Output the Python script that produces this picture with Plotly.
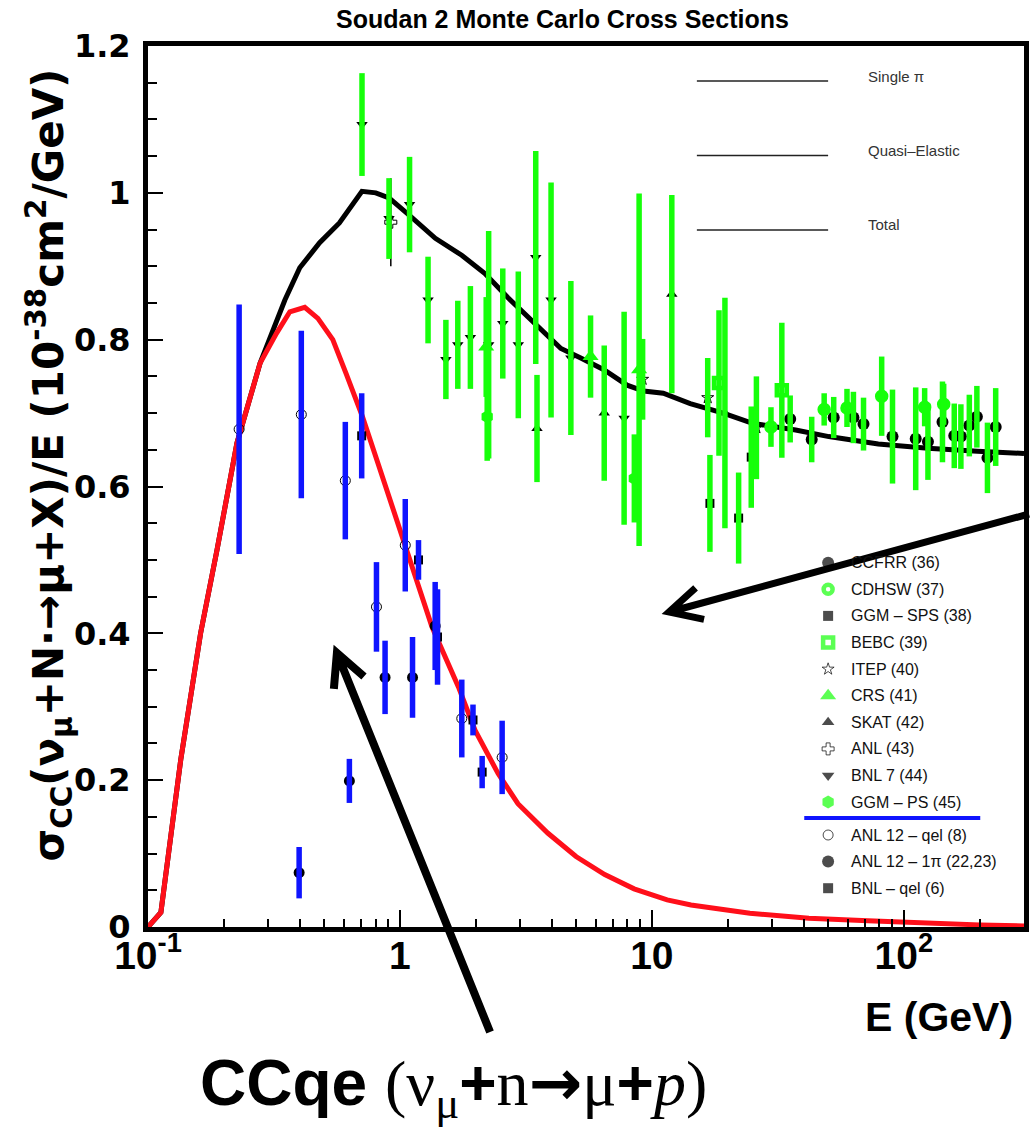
import math
import plotly.graph_objects as go

# ---------------- Monte Carlo curves (sigma/E vs E) ----------------
total_E = [0.1, 0.1125, 0.1349, 0.1617, 0.188, 0.2254, 0.2786, 0.305, 0.3494, 0.4003, 0.48, 0.575,
           0.7066, 0.802, 0.905, 1.085, 1.382, 1.759, 2.175, 2.686, 3.42, 4.355, 5.22, 6.45, 7.97,
           9.27, 11.1, 14.2, 19.2, 25.1, 37.2, 50.4, 79.2, 124.7, 196.0, 290.0, 300.0]
total_xs = [0.0, 0.02, 0.228, 0.400, 0.514, 0.659, 0.768, 0.804, 0.854, 0.898, 0.932, 0.959,
            1.002, 1.000, 0.993, 0.970, 0.938, 0.915, 0.890, 0.857, 0.822, 0.788, 0.775, 0.759, 0.738,
            0.730, 0.727, 0.713, 0.700, 0.686, 0.677, 0.668, 0.658, 0.652, 0.648, 0.645, 0.645]

qe_E = [0.1, 0.1125, 0.1349, 0.1617, 0.188, 0.2254, 0.2786, 0.324, 0.3656, 0.419, 0.4725, 0.5414,
        0.611, 0.7105, 0.8266, 0.991, 1.153, 1.34, 1.707, 1.986, 2.453, 2.94, 3.86, 5.0, 6.5, 8.5,
        11.5, 14.3, 24.5, 42.0, 72.0, 123.0, 200.0, 300.0]
qe_xs = [0.0, 0.02, 0.228, 0.400, 0.514, 0.659, 0.768, 0.809, 0.838, 0.844, 0.829, 0.800,
         0.754, 0.695, 0.627, 0.545, 0.473, 0.409, 0.327, 0.268, 0.209, 0.168, 0.128, 0.096, 0.0715,
         0.052, 0.037, 0.030, 0.0187, 0.0119, 0.0086, 0.005, 0.0028, 0.0014]

# ---------------- total cross-section measurements ----------------
ccfrr_E = [35.4, 43.1, 52.7, 63.1, 69.2, 90.2, 111.5, 124.7, 142.4, 158.6, 168.5, 182.0, 195.0, 214.8, 231.6]
ccfrr_xs = [0.692, 0.664, 0.694, 0.694, 0.685, 0.668, 0.665, 0.661, 0.688, 0.669, 0.668, 0.683, 0.695, 0.639, 0.681]
ccfrr_err = [0.032, 0.031, 0.028, 0.035, 0.036, 0.064, 0.070, 0.052, 0.055, 0.044, 0.044, 0.042, 0.042, 0.048, 0.053]

cdhsw_E = [29.7, 48.3, 59.5, 81.7, 121.0, 144.0]
cdhsw_xs = [0.681, 0.705, 0.707, 0.723, 0.708, 0.712]
cdhsw_err = [0.027, 0.022, 0.026, 0.054, 0.026, 0.028]

ggmsps_E = [17.0, 22.1, 24.8]
ggmsps_xs = [0.577, 0.557, 0.640]
ggmsps_err = [0.066, 0.062, 0.069]

bebc_E = [18.47, 32.8]
bebc_xs = [0.741, 0.731]
bebc_err = [0.099, 0.092]

itep_E = [9.19, 16.66, 26.0]
itep_xs = [0.746, 0.721, 0.680]
itep_err = [0.055, 0.054, 0.070]

crs_E = [2.2, 5.71, 8.9]
crs_xs = [0.790, 0.777, 0.759]
crs_err = [0.068, 0.056, 0.240]

skat_E = [3.5, 6.47, 12.0, 19.5]
skat_xs = [0.679, 0.700, 0.862, 0.700]
skat_err = [0.073, 0.092, 0.135, 0.157]

anl_E = [0.92]
anl_xs = [0.960]
anl_err = [0.060]

bnl7_E = [0.707, 0.905, 1.092, 1.293, 1.522, 1.697, 1.904, 2.25, 2.56, 2.95, 3.46, 3.98, 4.77, 7.76]
bnl7_xs = [1.093, 0.965, 0.984, 0.854, 0.773, 0.793, 0.803, 0.793, 0.822, 0.793, 0.912, 0.854, 0.775, 0.693]
bnl7_err = [0.070, 0.055, 0.065, 0.059, 0.054, 0.060, 0.070, 0.155, 0.075, 0.100, 0.145, 0.160, 0.105, 0.145]

ggmps_E = [2.22, 8.52]
ggmps_xs = [0.695, 0.611]
ggmps_err = [0.060, 0.060]

# ---------------- quasi-elastic / single pion measurements ----------------
anlqel_E = [0.230, 0.406, 0.607, 0.807, 1.05, 1.76, 2.545]
anlqel_xs = [0.678, 0.698, 0.608, 0.436, 0.520, 0.284, 0.231]
anlqel_err = [0.170, 0.114, 0.080, 0.061, 0.063, 0.053, 0.050]

anl1pi_E = [0.398, 0.630, 0.873, 1.122, 1.38]
anl1pi_xs = [0.074, 0.199, 0.340, 0.340, 0.410]
anl1pi_err = [0.035, 0.030, 0.050, 0.055, 0.060]

bnlqel_E = [0.705, 1.185, 1.41, 1.95, 2.12]
bnlqel_xs = [0.669, 0.500, 0.395, 0.282, 0.211]
bnlqel_err = [0.058, 0.027, 0.065, 0.021, 0.022]

# ---------------- labels ----------------
x_tickvals = [0.1, 1, 10, 100]
x_ticktext = ["10<sup>-1</sup>", "1", "10", "10<sup>2</sup>"]
y_tickvals = [0, 0.2, 0.4, 0.6, 0.8, 1.0, 1.2]
y_ticktext = ["0", "0.2", "0.4", "0.6", "0.8", "1", "1.2"]
curve_names = ["Single π", "Quasi–Elastic", "Total"]
legend_names = ["CCFRR (36)", "CDHSW (37)", "GGM – SPS (38)", "BEBC (39)", "ITEP (40)", "CRS (41)",
                "SKAT (42)", "ANL (43)", "BNL 7 (44)", "GGM – PS (45)",
                "ANL 12 – qel (8)", "ANL 12 – 1π (22,23)", "BNL – qel (6)"]

GREEN = "#16ff0a"
BLUE = "#0f14ff"
RED = "#ff0f1a"

# ---------------- page geometry ----------------
W, H = 1032, 1128
L, R, T, B = 148, 3, 46, 201
PW, PH = W - L - R, H - T - B


def px(x):
    return (x - L) / PW


def py(y):
    return (H - B - y) / PH


fig = go.Figure()

# curves
fig.add_trace(go.Scatter(x=total_E, y=total_xs, mode="lines", line=dict(color="black", width=5)))
fig.add_trace(go.Scatter(x=qe_E, y=qe_xs, mode="lines", line=dict(color=RED, width=5)))

# marker styles for each data set
sets = [
    (ccfrr_E, ccfrr_xs, ccfrr_err, dict(symbol="circle", size=12, color="black"), GREEN),
    (cdhsw_E, cdhsw_xs, cdhsw_err, dict(symbol="circle-open", size=9, color=GREEN, line=dict(width=4.5, color=GREEN)), GREEN),
    (ggmsps_E, ggmsps_xs, ggmsps_err, dict(symbol="square", size=9, color="black"), GREEN),
    (bebc_E, bebc_xs, bebc_err, dict(symbol="square-open", size=10, color=GREEN, line=dict(width=4.5, color=GREEN)), GREEN),
    (itep_E, itep_xs, itep_err, dict(symbol="star-open", size=9, color="black", line=dict(width=1, color="black")), GREEN),
    (crs_E, crs_xs, crs_err, dict(symbol="triangle-up", size=14, color=GREEN), GREEN),
    (skat_E, skat_xs, skat_err, dict(symbol="triangle-up", size=10, color="black"), GREEN),
    (bnl7_E, bnl7_xs, bnl7_err, dict(symbol="triangle-down", size=10, color="black"), GREEN),
    (ggmps_E, ggmps_xs, ggmps_err, dict(symbol="hexagon", size=13, color=GREEN), GREEN),
    (anlqel_E, anlqel_xs, anlqel_err, dict(symbol="circle-open", size=10, color="black", line=dict(width=1, color="black")), BLUE),
    (anl1pi_E, anl1pi_xs, anl1pi_err, dict(symbol="circle", size=11, color="black"), BLUE),
    (bnlqel_E, bnlqel_xs, bnlqel_err, dict(symbol="square", size=9, color="black"), BLUE),
]

# markers first, error bars drawn on top of them
for xs, ys, _, mk, _ in sets:
    fig.add_trace(go.Scatter(x=xs, y=ys, mode="markers", marker=mk))
fig.add_trace(go.Scatter(x=anl_E, y=anl_xs, mode="markers",
                         marker=dict(symbol="cross-open", size=10, color="black", line=dict(width=1, color="black")),
                         error_y=dict(type="data", array=anl_err, color="black", thickness=1.5, width=0)))
for xs, ys, err, _, col in sets:
    fig.add_trace(go.Scatter(x=xs, y=ys, mode="markers", marker=dict(opacity=0, size=2),
                             error_y=dict(type="data", array=err, color=col,
                                          thickness=5.5, width=0)))

# key symbols, placed on overlay axes measured in page pixels
key_rows = [562.7 + 26.6 * i for i in range(10)] + [835 + 26.6 * j for j in range(3)]
fig.add_trace(go.Scatter(
    x=[832] * len(legend_names), y=key_rows,
    xaxis="x2", yaxis="y2", mode="markers", cliponaxis=False,
    marker=dict(
        symbol=["circle", "circle-open", "square", "square-open", "star-open", "triangle-up", "triangle-up",
                "cross-open", "triangle-down", "hexagon", "circle-open", "circle", "square"],
        size=[12, 9, 10, 10, 9, 14, 11, 10, 11, 13, 10, 12, 10],
        color=["black", GREEN, "black", GREEN, "black", GREEN, "black", "black", "black", GREEN,
               "black", "black", "black"],
        line=dict(width=[0, 4.5, 0, 4.5, 1, 0, 0, 1, 0, 0, 1, 0, 0],
                  color=["black", GREEN, "black", GREEN, "black", GREEN, "black", "black", "black", GREEN,
                         "black", "black", "black"]),
    )))

annotations = []
for name, yy in zip(legend_names, key_rows):
    annotations.append(dict(x=px(853), y=py(yy), xref="paper", yref="paper", text=name, showarrow=False,
                             xanchor="left", yanchor="middle",
                             font=dict(family="Liberation Sans", size=16, color="#111")))

shapes = [dict(type="line", xref="paper", yref="paper", x0=px(808), x1=px(985), y0=py(818), y1=py(818),
               line=dict(color=BLUE, width=4))]

# curve key (top right)
for i, name in enumerate(curve_names):
    yy = 81 + 74.5 * i
    shapes.append(dict(type="line", xref="paper", yref="paper", x0=px(700), x1=px(832), y0=py(yy), y1=py(yy),
                       line=dict(color="#222", width=1.3)))
    annotations.append(dict(x=px(870), y=py(yy - 5), xref="paper", yref="paper", text=name, showarrow=False,
                             xanchor="left", yanchor="middle",
                             font=dict(family="Liberation Sans", size=15, color="#333")))


# pointer arrows with open heads
def arrow(x0, y0, x1, y1, width, wing=36, ang=27):
    dx, dy = x0 - x1, y0 - y1
    n = math.hypot(dx, dy)
    ux, uy = dx / n, dy / n
    pts = []
    for s in (1, -1):
        a = math.radians(ang * s)
        wx = ux * math.cos(a) - uy * math.sin(a)
        wy = ux * math.sin(a) + uy * math.cos(a)
        pts.append((x1 + wing * wx, y1 + wing * wy))
    path = (f"M{px(x0)},{py(y0)} L{px(x1)},{py(y1)} "
            f"M{px(pts[0][0])},{py(pts[0][1])} L{px(x1)},{py(y1)} L{px(pts[1][0])},{py(pts[1][1])}")
    return dict(type="path", xref="paper", yref="paper", path=path, line=dict(color="black", width=width))


shapes.append(arrow(1034, 514, 672, 612, 7))
shapes.append(arrow(492, 1032, 338, 653, 8))

# title
annotations.append(dict(x=px(565), y=py(19), xref="paper", yref="paper", showarrow=False,
                        xanchor="center", yanchor="middle",
                        text="<b>Soudan 2 Monte Carlo Cross Sections</b>",
                        font=dict(family="Liberation Sans", size=25, color="black")))

# y-axis title
annotations.append(dict(x=px(48), y=py(465), xref="paper", yref="paper", showarrow=False, textangle=-90,
                        xanchor="center", yanchor="middle",
                        text="<b>σ<sub>CC</sub>(ν<sub>μ</sub>+N·→μ+X)/E (10<sup>-38</sup>cm<sup>2</sup>/GeV)</b>",
                        font=dict(family="DejaVu Sans", size=42, color="black")))

# x-axis title
annotations.append(dict(x=px(1020), y=py(1017), xref="paper", yref="paper", showarrow=False,
                        xanchor="right", yanchor="middle", text="<b>E (GeV)</b>",
                        font=dict(family="Liberation Sans", size=41, color="black")))

# reaction label
serif = "font-family:'Liberation Serif';font-weight:normal"
annotations.append(dict(
    x=px(455), y=py(1087), xref="paper", yref="paper", showarrow=False,
    xanchor="center", yanchor="middle",
    text=(f"<b>CCqe </b><span style=\"{serif}\">(ν<sub>μ</sub></span><b>+</b>"
          f"<span style=\"{serif}\">n</span><span style=\"font-family:'DejaVu Sans';font-weight:bold\">→</span>"
          f"<span style=\"{serif}\">μ</span><b>+</b>"
          f"<span style=\"{serif}\"><i>p</i>)</span>"),
    font=dict(family="Liberation Sans", size=64, color="black")))

x_minor = [k * 10.0 ** n for n in (-1, 0, 1, 2) for k in range(2, 10) if k * 10.0 ** n <= 300]
y_minor = [round(0.05 * i, 2) for i in range(25)]

fig.update_layout(
    width=W, height=H, margin=dict(l=L, r=R, t=T, b=B),
    plot_bgcolor="white", paper_bgcolor="white", showlegend=False,
    shapes=shapes, annotations=annotations,
    xaxis=dict(type="log", range=[-1, math.log10(300)], tickvals=x_tickvals, ticktext=x_ticktext,
               ticks="inside", ticklen=17, tickwidth=1.5, tickcolor="black",
               minor=dict(tickvals=x_minor, ticks="inside", ticklen=8, tickwidth=1.5, tickcolor="black"),
               showline=True, linewidth=5, linecolor="black", mirror=True,
               showgrid=False, zeroline=False, ticklabelstandoff=-10,
               tickfont=dict(family="Liberation Sans", size=39, color="black", weight="bold")),
    yaxis=dict(range=[0, 1.2], tickvals=y_tickvals, ticktext=y_ticktext,
               ticks="inside", ticklen=15, tickwidth=1.5, tickcolor="black",
               minor=dict(tickvals=y_minor, ticks="inside", ticklen=9, tickwidth=1.5, tickcolor="black"),
               showline=True, linewidth=5, linecolor="black", mirror=True,
               showgrid=False, zeroline=False, ticklabelstandoff=6,
               tickfont=dict(family="DejaVu Sans", size=32, color="black", weight="bold")),
    xaxis2=dict(overlaying="x", range=[L, W - R], visible=False, fixedrange=True),
    yaxis2=dict(overlaying="y", range=[H - B, T], visible=False, fixedrange=True),
)

fig.write_html("out.html")
